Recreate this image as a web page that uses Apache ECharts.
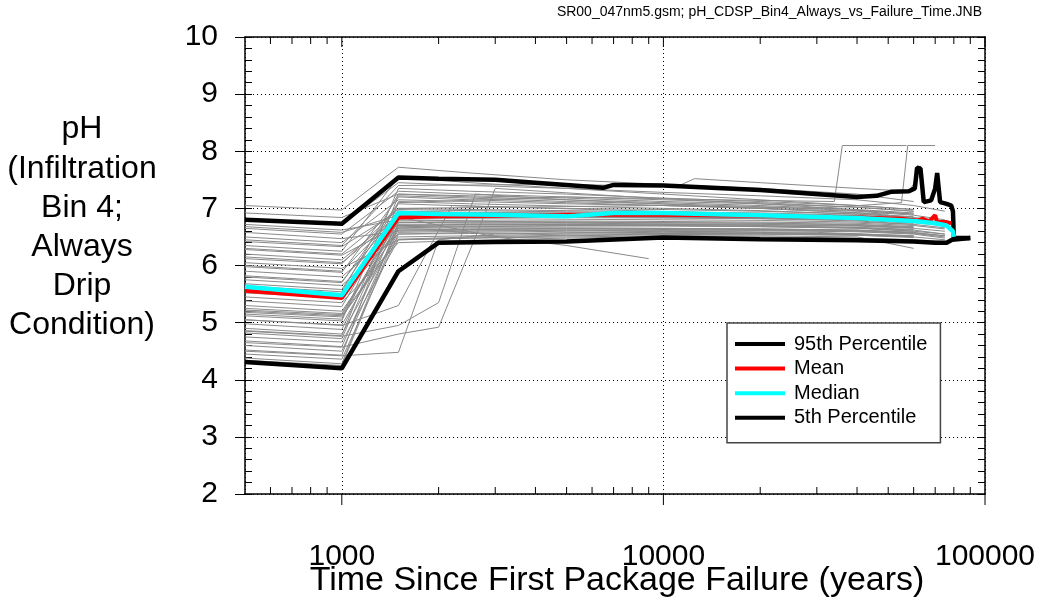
<!DOCTYPE html>
<html>
<head>
<meta charset="utf-8">
<script src="https://cdn.jsdelivr.net/npm/echarts@6/dist/echarts.min.js"></script>
<style>
html,body{margin:0;padding:0;background:#fff;}
#chart{width:1040px;height:601px;}
</style>
</head>
<body>
<div id="chart"></div>
<script>
// ---------------- DATA ----------------
const TIME_GRID = [500, 1000, 1500, 2500, 5000, 10000, 20000, 40000, 60000, 75000];

// gray realizations on TIME_GRID (null = run ended)
const grayRuns = [
  [7.05, 6.97, 7.72, 7.62, 7.50, 7.42, 7.35, 7.25, 7.12, null],
  [6.92, 6.84, 7.25, 7.22, 7.18, 7.12, 7.08, 7.02, 6.95, null],
  [6.80, 6.72, 7.45, 7.40, 7.35, 7.28, 7.22, 7.15, 7.05, 6.95],
  [6.72, 6.62, 6.80, 6.78, 6.75, 6.72, 6.70, 6.66, 6.60, null],
  [6.65, 6.55, 7.30, 7.25, 7.20, 7.15, 7.10, 7.02, 6.95, null],
  [6.58, 6.47, 6.60, 6.62, 6.62, 6.60, 6.58, 6.55, 6.50, 6.45],
  [6.50, 6.40, 7.15, 7.12, 7.08, 7.05, 7.00, 6.95, 6.88, 6.80],
  [6.42, 6.33, 6.95, 6.92, 6.90, 6.88, 6.85, 6.80, 6.75, null],
  [6.35, 6.25, 7.55, 7.45, 7.35, 7.25, 7.15, 7.05, 6.98, null],
  [6.28, 6.18, 6.70, 6.72, 6.72, 6.70, 6.68, 6.65, 6.60, 6.55],
  [6.20, 6.10, 6.88, 6.86, 6.85, 6.84, 6.82, 6.78, 6.72, null],
  [6.12, 6.03, 7.00, 6.98, 6.96, 6.94, 6.92, 6.88, 6.82, 6.75],
  [6.05, 5.95, 6.45, 6.48, 6.50, 6.52, 6.52, 6.50, 6.30, null],
  [5.98, 5.88, 7.20, 7.15, 7.10, 7.05, 7.00, 6.92, 6.85, null],
  [5.90, 5.80, 6.65, 6.66, 6.66, 6.65, 6.64, 6.62, 6.58, 6.52],
  [5.82, 5.72, 6.92, 6.90, 6.90, 6.88, 6.86, 6.83, 6.78, null],
  [5.75, 5.65, 6.55, 6.56, 6.57, 6.58, 6.57, 6.55, 6.52, null],
  [5.68, 5.58, 7.08, 7.04, 7.00, 6.98, 6.95, 6.90, 6.84, 6.78],
  [5.64, 5.54, 7.25, 7.20, 7.15, 7.10, 7.05, 6.98, 6.92, null],
  [5.60, 5.50, 6.75, 6.76, 6.76, 6.75, 6.74, 6.72, 6.68, null],
  [5.52, 5.43, 6.85, 6.84, 6.84, 6.83, 6.82, 6.80, 6.75, 6.70],
  [5.45, 5.35, 6.40, 6.44, 6.48, 6.50, 6.50, 6.48, 6.45, 6.42],
  [5.38, 5.28, 6.98, 6.96, 6.94, 6.92, 6.90, 6.86, 6.80, null],
  [5.30, 5.20, 6.62, 6.64, 6.65, 6.65, 6.64, 6.62, 6.58, null],
  [5.25, 5.16, 6.78, 6.78, 6.78, 6.77, 6.76, 6.74, 6.70, 6.64],
  [5.22, 5.14, 6.72, 6.73, 6.73, 6.73, 6.72, 6.70, 6.66, null],
  [5.20, 5.12, 6.50, 6.52, 6.55, 6.56, 6.56, 6.54, 6.50, null],
  [5.18, 5.10, 6.46, 6.50, 6.53, 6.55, 6.55, 6.53, 6.49, null],
  [5.12, 5.03, 7.35, 7.30, 7.25, 7.18, 7.12, 7.05, 6.98, null],
  [5.05, 4.96, 6.70, 6.71, 6.72, 6.72, 6.71, 6.69, 6.65, 6.60],
  [4.98, 4.88, 6.88, 6.88, 6.87, 6.86, 6.85, 6.82, 6.77, null],
  [4.90, 4.80, 6.58, 6.60, 6.62, 6.63, 6.62, 6.60, 6.56, 6.50],
  [4.86, 4.77, 7.22, 7.18, 7.12, 7.08, 7.03, 6.96, 6.90, null],
  [4.82, 4.72, 6.95, 6.93, 6.92, 6.90, 6.88, 6.84, 6.78, null],
  [4.75, 4.66, 6.45, 6.48, 6.52, 6.54, 6.55, 6.53, 6.50, null],
  [4.68, 4.58, 6.82, 6.82, 6.81, 6.80, 6.79, 6.76, 6.72, 6.66],
  [4.60, 4.50, 6.68, 6.69, 6.70, 6.70, 6.69, 6.67, 6.63, null],
  [4.52, 4.43, 7.12, 7.08, 7.04, 7.00, 6.96, 6.90, 6.85, null],
  [4.45, 4.36, 6.55, 6.58, 6.60, 6.61, 6.61, 6.59, 6.55, 6.48],
  [4.38, 4.28, 6.75, 6.76, 6.76, 6.75, 6.74, 6.71, 6.67, null],
  [6.00, 5.90, 6.90, 6.88, 6.86, 6.85, 6.83, 6.80, 6.74, null],
  [5.55, 5.46, 6.62, 6.63, 6.64, 6.64, 6.63, 6.61, 6.57, 6.52],
  [5.15, 5.06, 6.92, 6.91, 6.90, 6.88, 6.86, 6.83, 6.78, 6.72],
  [6.68, 6.58, 6.88, 6.87, 6.86, 6.85, 6.84, 6.80, 6.76, null],
  [4.34, 4.25, 6.66, 6.68, 6.69, 6.69, 6.68, 6.66, 6.62, 6.55]
];

// realizations with their own time points [time, pH]
const oddRuns = [
  [[500, 4.50], [1000, 4.42], [1500, 4.48], [2000, 6.45], [3000, 6.55], [10000, 6.60], [30000, 6.58], [60000, 6.52]],
  [[500, 4.85], [1000, 4.76], [1500, 4.95], [2000, 5.35], [2600, 7.25], [5000, 7.15], [20000, 7.00], [50000, 6.90]],
  [[500, 5.05], [1000, 4.95], [1500, 5.30], [2200, 7.05], [6000, 6.98], [20000, 6.90], [55000, 6.80]],
  [[500, 4.65], [1000, 4.57], [1500, 4.80], [2000, 4.92], [3000, 7.35], [8000, 7.20], [25000, 7.05], [60000, 6.90]],
  [[500, 6.15], [1000, 6.05], [1500, 6.85], [3000, 6.50], [5000, 6.35], [9000, 6.12]],
  [[500, 5.80], [1000, 5.70], [1500, 7.10], [5000, 7.20], [15000, 7.15], [34000, 7.12], [36000, 8.10], [57000, 8.10]],
  [[500, 6.30], [1000, 6.20], [1500, 7.00], [10000, 7.05], [30000, 7.00], [55000, 7.10], [57500, 8.10], [70000, 8.10]],
  [[500, 6.45], [1000, 6.35], [1500, 7.40], [5000, 7.42], [11000, 7.38], [12500, 7.52], [20000, 7.45], [40000, 7.35], [58000, 7.30], [62000, 7.55]]
];

const p95 = [[500, 6.80], [1000, 6.73], [1500, 7.54], [2000, 7.52], [3000, 7.50], [4000, 7.45], [5000, 7.41], [6500, 7.36],
  [7000, 7.41], [10000, 7.40], [20000, 7.32], [40000, 7.20], [46000, 7.22], [51000, 7.29], [58000, 7.30], [60500, 7.35],
  [61500, 7.71], [63000, 7.70], [64500, 7.11], [68000, 7.14], [70000, 7.35], [71000, 7.62], [72500, 7.11], [76000, 7.08],
  [78500, 7.05], [79500, 6.95], [80000, 6.48], [90000, 6.48]];
const meanVals = [[500, 5.56], [1000, 5.43], [1500, 6.84], [2000, 6.86], [3000, 6.87], [5000, 6.89], [10000, 6.89],
  [20000, 6.87], [40000, 6.84], [55000, 6.82], [58000, 6.80], [62000, 6.79], [64000, 6.82], [67000, 6.77], [70000, 6.88],
  [71000, 6.76], [76000, 6.76], [78500, 6.74]];
const medianVals = [[500, 5.63], [1000, 5.48], [1500, 6.92], [2000, 6.90], [3000, 6.89], [5000, 6.86], [7000, 6.92],
  [10000, 6.92], [20000, 6.88], [40000, 6.83], [60000, 6.78], [70000, 6.74], [76000, 6.70], [78000, 6.64], [79500, 6.60],
  [80000, 6.50]];
const p5 = [[500, 4.31], [1000, 4.20], [1500, 5.90], [2000, 6.40], [3000, 6.41], [5000, 6.42], [10000, 6.49],
  [20000, 6.46], [40000, 6.44], [60000, 6.42], [70000, 6.40], [76000, 6.40], [79000, 6.45], [80000, 6.48], [90000, 6.48]];

const xMajorTicks = [1000, 10000, 100000];
const xMinorTicks = [600, 700, 800, 900, 2000, 3000, 4000, 5000, 6000, 7000, 8000, 9000,
  20000, 30000, 40000, 50000, 60000, 70000, 80000, 90000];
const xLabels = [1000, 10000, 100000];

const legendNames = ['95th Percentile', 'Mean', 'Median', '5th Percentile'];
const yTitleLines = ['pH', '(Infiltration', 'Bin 4;', 'Always', 'Drip', 'Condition)'];
const xTitle = 'Time Since First Package Failure (years)';
const topNote = 'SR00_047nm5.gsm; pH_CDSP_Bin4_Always_vs_Failure_Time.JNB';

// ---------------- CHART ----------------
const FONT = '"Liberation Sans", Arial, Helvetica, sans-serif';
const chart = echarts.init(document.getElementById('chart'), null, {renderer: 'canvas'});

const series = [];
grayRuns.forEach(run => {
  series.push({
    type: 'line', silent: true, symbol: 'none', animation: false, z: 2,
    lineStyle: {color: '#8a8a8a', width: 1},
    data: TIME_GRID.map((t, i) => [t, run[i]])
  });
});
oddRuns.forEach(run => {
  series.push({
    type: 'line', silent: true, symbol: 'none', animation: false, z: 2,
    lineStyle: {color: '#8a8a8a', width: 1}, data: run
  });
});
function main(name, data, color, width, z) {
  return {
    name, type: 'line', symbol: 'none', animation: false, z,
    lineStyle: {color, width, join: 'bevel'}, itemStyle: {color}, data
  };
}
series.push(main(legendNames[0], p95, '#000000', 4.5, 5));
series.push(main(legendNames[3], p5, '#000000', 4.5, 5));
series.push(main(legendNames[1], meanVals, '#ff0000', 4, 6));
series.push(main(legendNames[2], medianVals, '#00ffff', 4.5, 7));

function tickSeries(values, major) {
  return {
    type: 'custom', silent: true, animation: false, clip: false, z: 10,
    data: values.map(v => [v, 2]),
    renderItem: function (params, api) {
      const b = api.coord([api.value(0), 2]);
      const t = api.coord([api.value(0), 10]);
      const style = {stroke: '#000', lineWidth: 1};
      return {
        type: 'group',
        children: [
          {type: 'line', shape: major ? {x1: b[0], y1: b[1], x2: b[0], y2: b[1] + 11} : {x1: b[0], y1: b[1], x2: b[0], y2: b[1] - 7}, style},
          {type: 'line', shape: {x1: t[0], y1: t[1], x2: t[0], y2: t[1] + (major ? 10 : 7)}, style}
        ]
      };
    }
  };
}
series.push(tickSeries(xMinorTicks, false));
series.push(tickSeries(xMajorTicks, true));

const grid = {left: 245, top: 37, width: 740, height: 457};
const dotted = {show: true, lineStyle: {color: '#000', width: 1, type: [1, 3]}};

const option = {
  backgroundColor: '#ffffff',
  animation: false,
  grid,
  xAxis: [
    {
      type: 'log', logBase: 10, min: 500, max: 100000, position: 'bottom',
      axisLine: {show: true, lineStyle: {color: '#000', width: 1.5}},
      axisTick: {show: false},
      axisLabel: {
        margin: 48, color: '#000', fontSize: 30, fontFamily: FONT,
        formatter: v => (xLabels.indexOf(Math.round(v)) >= 0 ? String(Math.round(v)) : ''),
        showMinLabel: true, showMaxLabel: true
      },
      splitLine: dotted
    },
    {
      type: 'log', logBase: 10, min: 500, max: 100000, position: 'top',
      axisLine: {show: true, lineStyle: {color: '#000', width: 1.5}},
      axisTick: {show: false}, axisLabel: {show: false}, splitLine: {show: false}
    }
  ],
  yAxis: [
    {
      type: 'value', min: 2, max: 10, interval: 1, position: 'left',
      axisLine: {show: true, lineStyle: {color: '#000', width: 1.5}},
      axisTick: {show: true, inside: false, length: 10, lineStyle: {color: '#000', width: 1}},
      axisLabel: {margin: 27, color: '#000', fontSize: 30, fontFamily: FONT},
      splitLine: dotted
    },
    {
      type: 'value', min: 2, max: 10, interval: 0.2, position: 'left',
      axisLine: {show: false},
      axisTick: {show: true, inside: true, length: 7, lineStyle: {color: '#000', width: 1}},
      axisLabel: {show: false}, splitLine: {show: false}
    },
    {
      type: 'value', min: 2, max: 10, interval: 0.2, position: 'right',
      axisLine: {show: true, lineStyle: {color: '#000', width: 1.5}},
      axisTick: {show: true, inside: true, length: 7, lineStyle: {color: '#000', width: 1}},
      axisLabel: {show: false}, splitLine: {show: false}
    }
  ],
  legend: {
    data: legendNames,
    orient: 'vertical',
    left: 727, top: 323,
    backgroundColor: '#ffffff',
    borderColor: '#444', borderWidth: 1.5, borderRadius: 0,
    padding: [9, 13, 13, 8],
    itemWidth: 50, itemHeight: 4, itemGap: 0.6,
    icon: 'rect',
    selectedMode: false,
    textStyle: {fontSize: 20, fontFamily: FONT, color: '#000', lineHeight: 24, padding: [0, 0, 0, 4]}
  },
  graphic: [
    {
      type: 'text', silent: true, x: 82, y: 110,
      style: {
        text: yTitleLines.join('\n'), fontSize: 32, fontFamily: FONT, fill: '#000',
        textAlign: 'center', textVerticalAlign: 'top', lineHeight: 39.2
      }
    },
    {
      type: 'text', silent: true, x: 617, y: 581,
      style: {
        text: xTitle, fontSize: 34, fontFamily: FONT, fill: '#000',
        textAlign: 'center', textVerticalAlign: 'middle'
      }
    },
    {
      type: 'text', silent: true, x: 982, y: 12,
      style: {
        text: topNote, fontSize: 14, fontFamily: FONT, fill: '#000',
        textAlign: 'right', textVerticalAlign: 'middle'
      }
    }
  ],
  series
};
chart.setOption(option);
</script>
</body>
</html>
